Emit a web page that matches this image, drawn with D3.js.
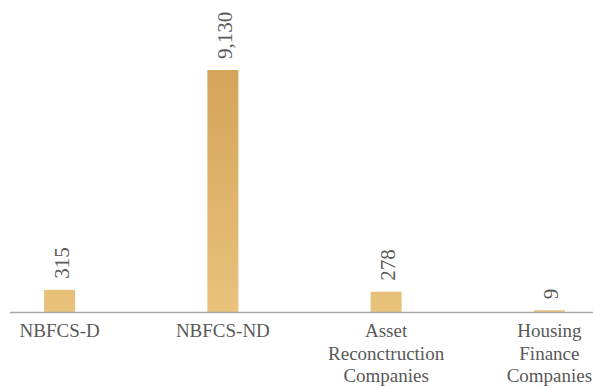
<!DOCTYPE html>
<html>
<head>
<meta charset="utf-8">
<script src="https://cdn.jsdelivr.net/npm/d3@7"></script>
<style>
  html, body { margin: 0; padding: 0; background: #fff; }
  svg { display: block; }
</style>
</head>
<body>
<svg id="chart" width="593" height="386"></svg>
<script>
const categories = ["NBFCS-D", "NBFCS-ND", "Asset Reconctruction Companies", "Housing Finance Companies"];
const categoryLines = [["NBFCS-D"], ["NBFCS-ND"], ["Asset", "Reconctruction", "Companies"], ["Housing", "Finance", "Companies"]];
const values = [315, 9130, 278, 9];
const valueLabels = ["315", "9,130", "278", "9"];

const svg = d3.select("#chart");
const W = 593, H = 386;
const baseY = 312, topY = 70;

const x = d3.scaleBand()
  .domain(categories)
  .range([-22, 631])
  .paddingInner(0.81)
  .paddingOuter(0.405);

const y = d3.scalePow().exponent(0.71)
  .domain([0, 9130])
  .range([baseY, topY]);

const defs = svg.append("defs");
const grad = defs.append("linearGradient")
  .attr("id", "barGrad")
  .attr("gradientUnits", "userSpaceOnUse")
  .attr("x1", 0).attr("x2", 0)
  .attr("y1", topY).attr("y2", baseY);
grad.append("stop").attr("offset", "0%").attr("stop-color", "#d4a459");
grad.append("stop").attr("offset", "100%").attr("stop-color", "#e9c27c");

const font = "'Liberation Serif', 'Times New Roman', serif";

svg.selectAll("rect.bar")
  .data(values)
  .join("rect")
  .attr("class", "bar")
  .attr("x", (d, i) => x(categories[i]))
  .attr("width", x.bandwidth())
  .attr("y", d => y(d))
  .attr("height", d => baseY - y(d))
  .attr("fill", "url(#barGrad)");

// axis line
svg.append("line")
  .attr("x1", 10).attr("x2", W)
  .attr("y1", baseY + 0.5).attr("y2", baseY + 0.5)
  .attr("stroke", "#a6a6a6")
  .attr("stroke-width", 1.5);

// value labels (rotated)
svg.selectAll("text.val")
  .data(values)
  .join("text")
  .attr("class", "val")
  .attr("transform", (d, i) => {
    const cx = x(categories[i]) + x.bandwidth() / 2;
    return `translate(${cx + 9},${y(d) - 11}) rotate(-90)`;
  })
  .attr("text-anchor", "start")
  .attr("font-family", font)
  .attr("font-size", 21)
  .attr("fill", "#595959")
  .text((d, i) => valueLabels[i]);

// category labels
const cat = svg.selectAll("text.cat")
  .data(categories)
  .join("text")
  .attr("class", "cat")
  .attr("x", d => x(d) + x.bandwidth() / 2)
  .attr("y", 337)
  .attr("text-anchor", "middle")
  .attr("font-family", font)
  .attr("font-size", 19)
  .attr("fill", "#595959");
cat.each(function(d, i) {
  const t = d3.select(this);
  categoryLines[i].forEach((line, j) => {
    t.append("tspan")
      .attr("x", x(d) + x.bandwidth() / 2)
      .attr("dy", j === 0 ? 0 : 22.5)
      .text(line);
  });
});
</script>
</body>
</html>
